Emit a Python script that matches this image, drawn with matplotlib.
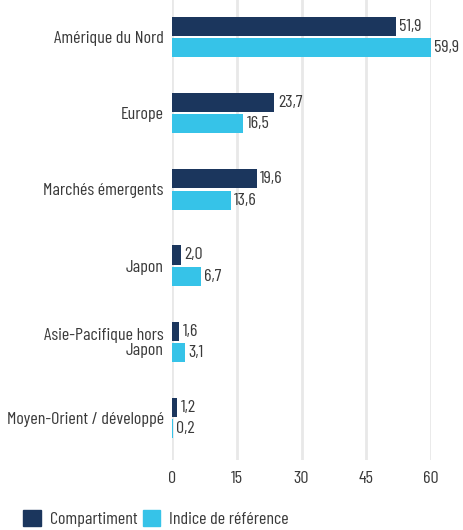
import matplotlib.pyplot as plt
import numpy as np
from matplotlib.font_manager import fontManager
from matplotlib.patches import Patch

# données
regions = ['Amérique du Nord', 'Europe', 'Marchés émergents', 'Japon',
           'Asie-Pacifique hors\nJapon', 'Moyen-Orient / développé']
compartiment = [51.9, 23.7, 19.6, 2.0, 1.6, 1.2]
indice = [59.9, 16.5, 13.6, 6.7, 3.1, 0.2]
xticks = [0, 15, 30, 45, 60]

# police étroite, la première disponible
noms = {f.name for f in fontManager.ttflist}
candidates = ['Barlow Condensed', 'Roboto Condensed', 'Archivo Narrow', 'PT Sans Narrow',
              'Oswald', 'Liberation Sans Narrow', 'DejaVu Sans']
police = next(c for c in candidates if c in noms)
plt.rcParams['font.family'] = [police, 'DejaVu Sans']
taille = 13

navy = '#1b365d'
cyan = '#36c3e8'
gris = '#3a3a3a'

fig = plt.figure(figsize=(4.64, 5.30), dpi=100)
ax = fig.add_axes([172 / 464, 1 - 460 / 530, 259 / 464, 460 / 530])

y = np.arange(len(regions))
h = 0.25
ax.barh(y - 0.14, compartiment, height=h, color=navy, zorder=3)
ax.barh(y + 0.14, indice, height=h, color=cyan, zorder=3)

# étiquettes de valeurs
for i in range(len(regions)):
    ax.text(compartiment[i] + 0.8, y[i] - 0.14, f'{compartiment[i]:.1f}'.replace('.', ','),
            va='center', ha='left', fontsize=taille, color=gris, clip_on=False)
    ax.text(indice[i] + 0.8, y[i] + 0.14, f'{indice[i]:.1f}'.replace('.', ','),
            va='center', ha='left', fontsize=taille, color=gris, clip_on=False)

ax.set_xlim(0, 60)
ax.set_ylim(5.55, -0.486)
ax.set_xticks(xticks)
ax.set_xticklabels([str(t) for t in xticks], fontsize=taille, color=gris)
ax.set_yticks(y)
ax.set_yticklabels(regions, fontsize=taille, color=gris, linespacing=1.0)
ax.tick_params(axis='both', length=0)
ax.tick_params(axis='y', pad=6)
ax.tick_params(axis='x', pad=8)
ax.grid(axis='x', color='#e8e8e8', linewidth=2, zorder=0)
for s in ax.spines.values():
    s.set_visible(False)

# légende
poignees = [Patch(color=navy, label='Compartiment'), Patch(color=cyan, label='Indice de référence')]
fig.legend(handles=poignees, loc='lower left', bbox_to_anchor=(0.035, -0.008), ncol=2,
           frameon=False, fontsize=taille, handlelength=0.95, handleheight=0.95,
           handletextpad=0.5, columnspacing=0.3, labelcolor=gris, borderaxespad=0)

fig.savefig('out.png', dpi=100)
